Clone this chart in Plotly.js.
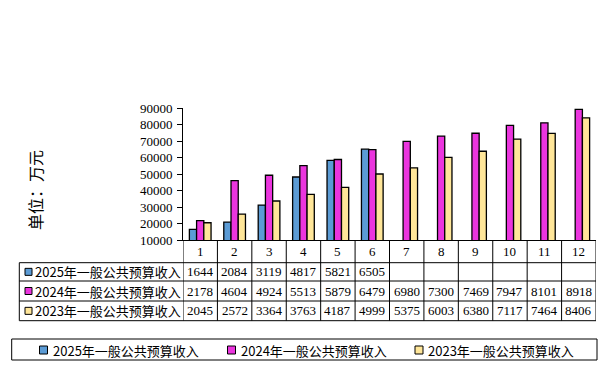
<!DOCTYPE html>
<html>
<head>
<meta charset="utf-8">
<script src="https://cdn.plot.ly/plotly-3.0.1.min.js"></script>
<style>html,body{margin:0;padding:0;background:#fff;}#chart{width:605px;height:378px;}</style>
</head>
<body>
<div id="chart"></div>
<script>
var months = [1,2,3,4,5,6,7,8,9,10,11,12];
var monthLabels = ['1','2','3','4','5','6','7','8','9','10','11','12'];
var seriesNames = ['2025年一般公共预算收入','2024年一般公共预算收入','2023年一般公共预算收入'];
var v2025 = [16440,20840,31190,48170,58210,65050];
var v2024 = [21780,46040,49240,55130,58790,64790,69800,73000,74690,79470,81010,89180];
var v2023 = [20450,25720,33640,37630,41870,49990,53750,60030,63800,71170,74640,84060];
var colors = ['#5B9BD5','#EB35DE','#FFE699'];
var yTitle = '单位：万元';

var W = 605, H = 378;
var L = 183, R = 9, T = 108, B = 138;
var plotW = W - L - R, plotH = H - T - B;
function px(p){ return (p - L) / plotW; }
function py(p){ return (H - B - p) / plotH; }

var allSeries = [v2025, v2024, v2023];
var traces = allSeries.map(function(vals, i){
  return {
    type: 'bar', x: months.slice(0, vals.length), y: vals, name: seriesNames[i],
    marker: {color: colors[i], line: {color: '#000', width: 1.3}},
    showlegend: false, hoverinfo: 'skip'
  };
});

var shapes = [], annotations = [];
var line = {color:'#000', width:1};
var rowLines = [262.7, 281, 301, 320.7];
// vertical lines in the table
for (var k = 0; k <= 12; k++) {
  shapes.push({type:'line', xref:'x', yref:'paper', x0:k+0.5, x1:k+0.5, y0:py(240), y1:py(320.7), line:line});
}
rowLines.forEach(function(r){
  shapes.push({type:'line', xref:'paper', yref:'paper', x0:px(19.3), x1:px(596), y0:py(r), y1:py(r), line:line});
});
shapes.push({type:'line', xref:'paper', yref:'paper', x0:px(19.3), x1:px(19.3), y0:py(262.7), y1:py(320.7), line:line});

var fontNum = {family:'Liberation Serif, serif', size:13, color:'#000'};
var fontCJK = {family:'Noto Sans CJK SC, sans-serif', size:13, color:'#000'};

months.forEach(function(m, i){
  annotations.push({xref:'x', yref:'paper', x:m, y:py(251.5), text:monthLabels[i], showarrow:false, font:fontNum, xanchor:'center', yanchor:'middle'});
});
allSeries.forEach(function(vals, s){
  var mid = (rowLines[s] + rowLines[s+1]) / 2;
  shapes.push({type:'rect', xref:'paper', yref:'paper', x0:px(25), x1:px(32), y0:py(mid-3.5), y1:py(mid+3.5), fillcolor:colors[s], line:line});
  annotations.push({xref:'paper', yref:'paper', x:px(32.5), y:py(mid), text:seriesNames[s], showarrow:false, font:fontCJK, xanchor:'left', yanchor:'middle'});
  vals.forEach(function(v, i){
    annotations.push({xref:'x', yref:'paper', x:months[i], y:py(mid), text:String(v).slice(0,4), showarrow:false, font:fontNum, xanchor:'center', yanchor:'middle'});
  });
});

// legend box
shapes.push({type:'rect', xref:'paper', yref:'paper', x0:px(11.7), x1:px(597), y0:py(339), y1:py(360), line:line, fillcolor:'rgba(0,0,0,0)'});
var legX = [39.5, 227.5, 415];
seriesNames.forEach(function(n, s){
  shapes.push({type:'rect', xref:'paper', yref:'paper', x0:px(legX[s]), x1:px(legX[s]+8), y0:py(346), y1:py(354), fillcolor:colors[s], line:line});
  annotations.push({xref:'paper', yref:'paper', x:px(legX[s]+11), y:py(350), text:n, showarrow:false, font:fontCJK, xanchor:'left', yanchor:'middle'});
});

// y title
annotations.push({xref:'paper', yref:'paper', x:px(35), y:py(190), text:yTitle, textangle:-90, showarrow:false, font:{family:'Noto Sans CJK SC, sans-serif', size:16, color:'#000'}, xanchor:'center', yanchor:'middle'});

var layout = {
  width: W, height: H,
  margin: {l:L, r:R, t:T, b:B, pad:0},
  paper_bgcolor:'#fff', plot_bgcolor:'#fff',
  barmode:'group', bargap:0.37, bargroupgap:0,
  showlegend:false,
  xaxis: {range:[0.5,12.5], showticklabels:false, ticks:'', showgrid:false, zeroline:false, showline:true, linecolor:'#000', linewidth:1, fixedrange:true},
  yaxis: {range:[10000,90000], tickvals:[10000,20000,30000,40000,50000,60000,70000,80000,90000], ticktext:['10000','20000','30000','40000','50000','60000','70000','80000','90000'], ticks:'outside', ticklen:5, tickcolor:'#000', tickwidth:1, showgrid:false, zeroline:false, showline:true, linecolor:'#000', linewidth:1, tickfont:fontNum, ticklabelstandoff:2},
  shapes: shapes, annotations: annotations
};
Plotly.newPlot('chart', traces, layout, {displayModeBar:false, staticPlot:true});
</script>
</body>
</html>
